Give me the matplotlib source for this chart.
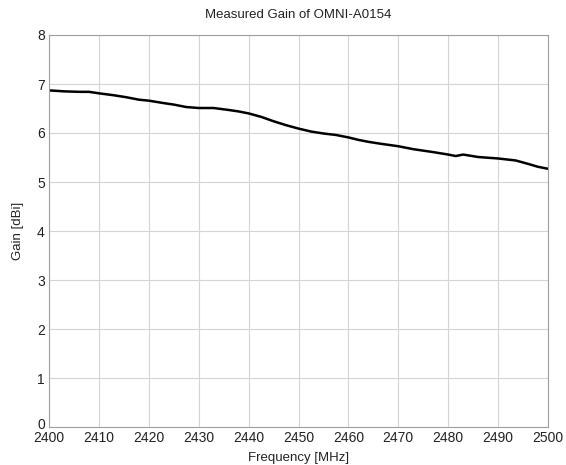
import matplotlib
matplotlib.use("Agg")
import matplotlib.pyplot as plt
import matplotlib.transforms as mtransforms

plt.rcParams['font.family'] = ['Liberation Sans', 'DejaVu Sans']

# measured gain
freq = [2400, 2403, 2406, 2408, 2410, 2413, 2415.5, 2418, 2420, 2423, 2425,
        2427.5, 2430, 2433, 2436, 2438, 2440, 2442.5, 2445, 2447.5, 2450,
        2452.5, 2455, 2457.5, 2460, 2462, 2464, 2466.5, 2470, 2473, 2477,
        2480, 2481.5, 2483, 2486, 2490, 2493.5, 2496, 2498, 2500]
gain = [6.87, 6.85, 6.84, 6.84, 6.81, 6.77, 6.73, 6.68, 6.66, 6.61, 6.58,
        6.53, 6.51, 6.51, 6.47, 6.44, 6.40, 6.33, 6.24, 6.16, 6.09,
        6.03, 5.99, 5.96, 5.91, 5.86, 5.82, 5.78, 5.73, 5.67, 5.61,
        5.56, 5.53, 5.56, 5.51, 5.48, 5.44, 5.37, 5.31, 5.27]

fig = plt.figure(figsize=(5.66, 4.65), dpi=100)
ax = fig.add_axes([49/566, 1 - 427/465, 499/566, 392/465])

ax.plot(freq, gain, color='black', linewidth=1.8)

ax.set_xlim(2400, 2500)
ax.set_ylim(0, 8)
ax.set_xticks(range(2400, 2501, 10))
ax.set_yticks(range(0, 9))
ax.grid(True, color='#d4d4d4', linewidth=0.8)
for s in ax.spines.values():
    s.set_color('#a0a0a0')
    s.set_linewidth(0.8)
ax.tick_params(length=0, labelsize=10, colors='#222222', pad=3)

ax.set_title('Measured Gain of OMNI-A0154', fontsize=9.5, color='#222222', pad=12)
ax.set_xlabel('Frequency [MHz]', fontsize=9.5, color='#222222', labelpad=5)
ax.set_ylabel('Gain [dBi]', fontsize=9.5, color='#222222', labelpad=9)

# lift the "0" label a little so it sits above the first frequency label
fig.canvas.draw()
lbl0 = ax.get_yticklabels()[0]
lbl0.set_transform(lbl0.get_transform() +
                   mtransforms.ScaledTranslation(0, 4/100, fig.dpi_scale_trans))

fig.savefig('out.png', dpi=100)
